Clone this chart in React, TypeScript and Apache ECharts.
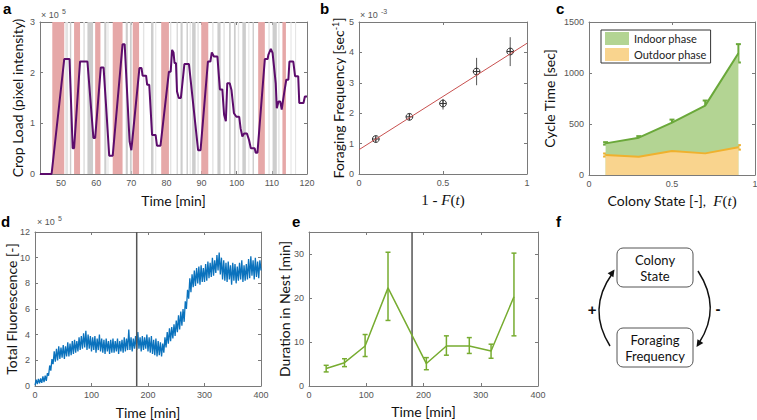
import React, { useEffect, useRef } from "react";
import * as echarts from "echarts";

// ---------- Panel a: crop load ----------
const aTicks = [50, 60, 70, 80, 90, 100, 110, 120];
const aXMin = 44;
const aXMax = 120;
const aYMax = 3;
const cropTime = [44, 47.3, 50.9, 52.4, 53.3, 53.7, 55.4, 57.5, 59.2, 59.7,
  61.3, 62.1, 62.7, 63.7, 64.7, 67.5, 68.1, 69.5, 70.0, 72.3,
  72.9, 73.2, 74.2, 74.5, 75.1, 75.9, 76.9, 77.3, 78.3, 80.7,
  81.2, 81.6, 82.0, 82.3, 82.7, 83.0, 83.5, 84.1, 85.1, 86.4,
  89.0, 89.7, 91.8, 92.5, 92.9, 93.5, 94.5, 95.2, 95.9, 96.4,
  96.9, 97.3, 98.0, 98.5, 99.2, 99.9, 100.7, 101.1, 101.6, 102.1,
  102.9, 103.5, 104.0, 105.1, 105.4, 105.9, 108.0, 108.8, 109.0, 109.7,
  110.2, 111.1, 111.4, 111.9, 112.4, 112.8, 113.5, 114.1, 114.7, 115.0,
  116.1, 116.6, 117.5, 117.8, 119.0, 119.4, 120];
const cropLoad = [0, 0, 2.27, 2.27, 0.51, 0.51, 2.22, 2.22, 0.71, 0.71,
  2.1, 2.1, 1.46, 0.36, 0.36, 2.56, 2.56, 0.64, 0.47, 2.09,
  2.09, 1.94, 1.94, 1.76, 1.76, 0.77, 0.77, 0.56, 0.56, 2.02,
  2.02, 2.45, 2.4, 2.19, 2.19, 1.63, 1.5, 1.5, 2.17, 2.17,
  0.47, 0.47, 2.22, 2.22, 2.4, 2.32, 2.32, 1.67, 1.67, 1.17,
  1.04, 1.79, 1.79, 1.66, 1.2, 1.13, 1.13, 0.9, 0.74, 0.8,
  0.8, 0.67, 0.51, 0.51, 0.42, 0.42, 2.27, 2.27, 2.35, 2.47,
  2.39, 1.79, 1.3, 1.43, 1.43, 1.27, 1.6, 1.86, 1.86, 2.22,
  2.22, 1.93, 1.93, 1.4, 1.4, 1.53, 1.53];
const outdoorBands = [[47.5, 50.9], [53.7, 55.4], [59.7, 61.2], [64.7, 67.5], [70.4, 72.2],
  [78.5, 80.7], [89.9, 91.9], [106.1, 108.0], [113.0, 114.0]];
const grayBandsDark = [[52.5, 52.9], [57.5, 59.1], [62.3, 62.9], [68.4, 69.0], [69.6, 70.1],
  [75.6, 76.3], [82.9, 83.2], [84.0, 84.6], [85.7, 86.1], [87.3, 88.3], [94.5, 95.4],
  [97.8, 98.3], [99.2, 99.7], [101.6, 102.6], [104.5, 104.9], [110.2, 111.4]];
const grayBandsLight = [[51.2, 52.0], [56.3, 56.8], [63.2, 63.5], [73.3, 73.7], [76.8, 77.1],
  [81.0, 81.4], [86.6, 86.9], [88.8, 89.2], [93.0, 93.4], [96.2, 96.6], [100.3, 100.7],
  [103.3, 103.6], [109.0, 109.4], [111.8, 112.2], [115.3, 115.6], [116.6, 116.9]];

// ---------- Panel b: foraging frequency ----------
const bX = [0.1, 0.3, 0.5, 0.7, 0.9];
const bFreq = [1.15, 1.88, 2.32, 3.37, 4.03];
const bLow = [1.07, 1.78, 2.12, 2.92, 3.55];
const bHigh = [1.23, 1.98, 2.47, 3.82, 4.5];
const fitX = [0, 1];
const fitY = [0.8, 4.3];

// ---------- Panel c: cycle time ----------
const colonyState = [0.1, 0.3, 0.5, 0.7, 0.9];
const indoorTop = [310, 366, 513, 680, 1193];
const indoorErr = [12, 15, 30, 50, 90];
const outdoorTop = [196, 180, 235, 212, 271];
const outdoorErr = [15, 15, 18, 15, 22];

// ---------- Panel d: total fluorescence (sampled every 2 min) ----------
const fluorStep = 2;
const fluor = [
  0.05, 0.5, 0.15, 0.55, 0.2, 0.6, 0.25, 0.75, 0.3, 0.8,
  0.4, 1.0, 0.8, 1.6, 1.2, 2.1, 1.7, 2.7, 1.9, 2.9,
  2.0, 3.1, 2.1, 3.0, 2.2, 3.2, 2.1, 3.1, 2.3, 3.4,
  2.3, 3.3, 2.4, 3.5, 2.5, 3.6, 2.6, 3.5, 2.7, 3.8,
  2.8, 3.9, 2.9, 4.1, 3.0, 4.3, 2.8, 4.0, 2.9, 3.9,
  2.7, 3.8, 2.8, 3.9, 2.6, 3.7, 2.8, 4.0, 2.7, 3.7,
  2.6, 3.6, 2.5, 3.7, 2.7, 3.5, 2.5, 3.6, 2.6, 3.7,
  2.6, 3.5, 2.7, 3.7, 2.5, 3.5, 2.7, 3.6, 2.6, 3.8,
  2.7, 3.7, 2.8, 4.4, 2.8, 3.8, 2.7, 3.7, 2.9, 3.9,
  2.8, 4.2, 2.9, 3.8, 2.7, 3.9, 2.8, 3.8, 2.9, 4.0,
  2.7, 3.8, 2.6, 3.9, 2.5, 3.6, 2.4, 3.7, 2.3, 3.5,
  2.4, 3.4, 2.3, 3.3, 2.6, 3.8, 3.0, 4.2, 3.3, 4.5,
  3.5, 4.6, 3.7, 4.8, 3.9, 5.1, 4.2, 5.5, 4.4, 5.8,
  4.7, 6.0, 5.0, 6.6, 6.0, 7.5, 6.8, 8.4, 7.3, 8.7,
  7.7, 9.0, 7.8, 9.2, 8.0, 9.3, 7.9, 9.4, 8.1, 9.2,
  8.1, 9.5, 8.2, 9.7, 8.4, 9.6, 8.5, 10.0, 8.6, 9.8,
  8.8, 10.2, 9.0, 10.4, 8.7, 10.0, 8.3, 9.8, 8.2, 9.6,
  8.1, 9.7, 8.3, 9.4, 7.9, 9.6, 8.2, 9.5, 8.0, 9.3,
  8.2, 9.6, 8.3, 9.8, 8.1, 9.4, 8.2, 9.5, 8.3, 9.9,
  8.4, 10.1, 8.6, 9.8, 8.3, 10.0, 8.5, 9.7, 8.4, 9.8,
  9.0];
const splitTime = 180;

// ---------- Panel e: duration in nest ----------
const nestTime = [30, 62, 98, 138, 205, 240, 280, 318, 358];
const nestDuration = [3.96, 5.3, 9.1, 22.3, 5.1, 9.1, 9.1, 7.96, 20.3];
const nestLow = [3.2, 4.4, 6.7, 14.9, 3.7, 7.0, 7.4, 6.3, 11.4];
const nestHigh = [4.7, 6.2, 11.7, 30.4, 6.45, 11.4, 11.0, 9.5, 30.2];
const eYTicks = [0, 10, 20, 30];

// ---------- styling ----------
const FONT_T = "'Liberation Sans', Arial, sans-serif";
const FONT_L = "Lato, 'Open Sans', sans-serif";
const FONT_S = "'Liberation Serif', 'DejaVu Serif', serif";
const FRAME = "#7a7a7a";
const TICK_COLOR = "#555";
const nameStyle = { fontFamily: FONT_L, fontSize: 14, color: "#111" };
const mathRich = {
  n: { fontFamily: FONT_S, fontSize: 15, color: "#111" },
  i: { fontFamily: FONT_S, fontSize: 15, fontStyle: "italic", color: "#111" },
  s: { fontFamily: FONT_L, fontSize: 14, color: "#111" },
};

const grids = [
  { left: 40, top: 22, width: 267, height: 152 },
  { left: 359, top: 22, width: 168, height: 152 },
  { left: 589, top: 22, width: 166, height: 153 },
  { left: 35, top: 232, width: 226, height: 154 },
  { left: 309, top: 232, width: 229, height: 154 },
];

function axisPair(kind: "x" | "y", gi: number, spec: any) {
  const base: any = {
    gridIndex: gi,
    type: "value",
    min: spec.min,
    max: spec.max,
    interval: spec.interval,
    splitLine: { show: false },
    axisLine: { show: true, onZero: false, lineStyle: { color: FRAME, width: 1 } },
    axisTick: { show: true, inside: true, length: 3, lineStyle: { color: FRAME, width: 1 }, customValues: spec.ticks },
  };
  const main: any = {
    ...base,
    position: kind === "x" ? "bottom" : "left",
    axisLabel: {
      color: TICK_COLOR, fontSize: 9, fontFamily: FONT_T, margin: kind === "x" ? 4 : 5,
      customValues: spec.ticks, formatter: (v: number) => String(v),
    },
    name: spec.name,
    nameLocation: "middle",
    nameGap: spec.gap,
    nameMoveOverlap: false,
    nameTextStyle: spec.nameStyle || nameStyle,
  };
  if (kind === "y") main.nameRotate = 90;
  const mirror: any = { ...base, position: kind === "x" ? "top" : "right", axisLabel: { show: false } };
  return [main, mirror];
}

const errBar = (color: string, cap: number, lw: number) => (params: any, api: any) => {
  const x = api.value(0);
  const lo = api.coord([x, api.value(1)]);
  const hi = api.coord([x, api.value(2)]);
  const st = { stroke: color, lineWidth: lw };
  const ch: any[] = [{ type: "line", shape: { x1: lo[0], y1: lo[1], x2: hi[0], y2: hi[1] }, style: st }];
  if (cap > 0) {
    ch.push({ type: "line", shape: { x1: lo[0] - cap, y1: lo[1], x2: lo[0] + cap, y2: lo[1] }, style: st });
    ch.push({ type: "line", shape: { x1: hi[0] - cap, y1: hi[1], x2: hi[0] + cap, y2: hi[1] }, style: st });
  }
  return { type: "group", children: ch };
};

const ringMarker = (params: any, api: any) => {
  const p = api.coord([api.value(0), api.value(1)]);
  const r = 3.4;
  const st = { stroke: "#333", lineWidth: 1, fill: "transparent" };
  return {
    type: "group",
    children: [
      { type: "circle", shape: { cx: p[0], cy: p[1], r }, style: st },
      { type: "line", shape: { x1: p[0] - r, y1: p[1], x2: p[0] + r, y2: p[1] }, style: st },
      { type: "line", shape: { x1: p[0], y1: p[1] - r, x2: p[0], y2: p[1] + r }, style: st },
    ],
  };
};

const bandRender = (color: string) => (params: any, api: any) => {
  const p0 = api.coord([api.value(0), aYMax]);
  const p1 = api.coord([api.value(1), 0]);
  return {
    type: "rect",
    shape: { x: p0[0], y: p0[1], width: p1[0] - p0[0], height: p1[1] - p0[1] },
    style: { fill: color },
  };
};

function arrowHead(tx: number, ty: number, dx: number, dy: number, len: number, half: number) {
  const n = Math.hypot(dx, dy);
  const ux = dx / n, uy = dy / n;
  const bx = tx - ux * len, by = ty - uy * len;
  return [[tx, ty], [bx - uy * half, by + ux * half], [bx + uy * half, by - ux * half]];
}

function buildOption(): any {
  const xs: any[] = [];
  const ys: any[] = [];
  xs.push(...axisPair("x", 0, { min: aXMin, max: aXMax, ticks: aTicks, name: "Time [min]", gap: 19 }));
  ys.push(...axisPair("y", 0, { min: 0, max: aYMax, interval: 1, name: "Crop Load (pixel intensity)", gap: 16 }));
  xs.push(...axisPair("x", 1, {
    min: 0, max: 1, interval: 0.5, gap: 18,
    name: "{n|1 - }{i|F}{n|(}{i|t}{n|)}", nameStyle: { rich: mathRich },
  }));
  ys.push(...axisPair("y", 1, {
    min: 0, max: 5, interval: 1, gap: 13,
    name: "{t|Foraging Frequency [sec}{sup|-1}{t|]}",
    nameStyle: { rich: { t: { ...nameStyle }, sup: { fontFamily: FONT_L, fontSize: 9, color: "#111", verticalAlign: "top", padding: [0, 0, 6, 0] } } },
  }));
  xs.push(...axisPair("x", 2, {
    min: 0, max: 1, interval: 0.5, gap: 18,
    name: "{s|Colony State [-],  }{i|F}{n|(}{i|t}{n|)}", nameStyle: { rich: mathRich },
  }));
  ys.push(...axisPair("y", 2, { min: 0, max: 1500, interval: 500, name: "Cycle Time [sec]", gap: 33 }));
  xs.push(...axisPair("x", 3, { min: 0, max: 400, interval: 100, name: "Time [min]", gap: 19 }));
  ys.push(...axisPair("y", 3, { min: 0, max: 12, interval: 2, name: "Total Fluorescence [-]", gap: 17 }));
  xs.push(...axisPair("x", 4, { min: 0, max: 400, interval: 100, name: "Time [min]", gap: 18 }));
  ys.push(...axisPair("y", 4, { min: 0, max: 35, ticks: eYTicks, name: "Duration in Nest [min]", gap: 18 }));

  const series: any[] = [
    // a
    { type: "custom", xAxisIndex: 0, yAxisIndex: 0, renderItem: bandRender("#e4e4e4"), data: grayBandsLight, encode: { x: [0, 1] }, silent: true },
    { type: "custom", xAxisIndex: 0, yAxisIndex: 0, renderItem: bandRender("#cdcdcd"), data: grayBandsDark, encode: { x: [0, 1] }, silent: true },
    { type: "custom", xAxisIndex: 0, yAxisIndex: 0, renderItem: bandRender("#e6a8a8"), data: outdoorBands, encode: { x: [0, 1] }, silent: true },
    {
      type: "line", xAxisIndex: 0, yAxisIndex: 0, symbol: "none",
      lineStyle: { color: "#5c0c6c", width: 2 },
      data: cropTime.map((t, i) => [t, cropLoad[i]]),
    },
    // b
    {
      type: "line", xAxisIndex: 2, yAxisIndex: 2, symbol: "none",
      lineStyle: { color: "#c8504f", width: 1 },
      data: fitX.map((x, i) => [x, fitY[i]]),
    },
    {
      type: "custom", xAxisIndex: 2, yAxisIndex: 2, renderItem: errBar("#555", 0, 1),
      data: bX.map((x, i) => [x, bLow[i], bHigh[i]]), encode: { x: 0, y: [1, 2] },
    },
    {
      type: "custom", xAxisIndex: 2, yAxisIndex: 2, renderItem: ringMarker,
      data: bX.map((x, i) => [x, bFreq[i]]), encode: { x: 0, y: 1 },
    },
    // c
    {
      name: "Indoor phase", type: "line", xAxisIndex: 4, yAxisIndex: 4, symbol: "none",
      lineStyle: { color: "#6aa83a", width: 2 }, itemStyle: { color: "#b3d493" },
      areaStyle: { color: "#b3d493", opacity: 1 },
      data: colonyState.map((x, i) => [x, indoorTop[i]]),
    },
    {
      name: "Outdoor phase", type: "line", xAxisIndex: 4, yAxisIndex: 4, symbol: "none",
      lineStyle: { color: "#efb12e", width: 2 }, itemStyle: { color: "#f9d48e" },
      areaStyle: { color: "#f9d48e", opacity: 1 },
      data: colonyState.map((x, i) => [x, outdoorTop[i]]),
    },
    {
      type: "custom", xAxisIndex: 4, yAxisIndex: 4, renderItem: errBar("#6aa83a", 2.5, 2),
      data: colonyState.map((x, i) => [x, indoorTop[i] - indoorErr[i], indoorTop[i] + indoorErr[i]]),
      encode: { x: 0, y: [1, 2] },
    },
    {
      type: "custom", xAxisIndex: 4, yAxisIndex: 4, renderItem: errBar("#efb12e", 2.5, 2),
      data: colonyState.map((x, i) => [x, outdoorTop[i] - outdoorErr[i], outdoorTop[i] + outdoorErr[i]]),
      encode: { x: 0, y: [1, 2] },
    },
    // d
    {
      type: "line", xAxisIndex: 6, yAxisIndex: 6, symbol: "none",
      lineStyle: { color: "#0a72bd", width: 1.3 },
      data: fluor.map((v, i) => [i * fluorStep, v]),
    },
    {
      type: "line", xAxisIndex: 6, yAxisIndex: 6, symbol: "none",
      lineStyle: { color: "#555", width: 1.5 },
      data: [[splitTime, 0], [splitTime, 12]],
    },
    // e
    {
      type: "line", xAxisIndex: 8, yAxisIndex: 8, symbol: "none",
      lineStyle: { color: "#555", width: 1.5 },
      data: [[splitTime, 0], [splitTime, 35]],
    },
    {
      type: "line", xAxisIndex: 8, yAxisIndex: 8, symbol: "none",
      lineStyle: { color: "#77ac30", width: 1.5 },
      data: nestTime.map((t, i) => [t, nestDuration[i]]),
    },
    {
      type: "custom", xAxisIndex: 8, yAxisIndex: 8, renderItem: errBar("#77ac30", 2.5, 1.5),
      data: nestTime.map((t, i) => [t, nestLow[i], nestHigh[i]]), encode: { x: 0, y: [1, 2] },
    },
  ];

  const letter = (t: string, x: number, y: number) => ({
    type: "text", x, y,
    style: { text: t, fontFamily: FONT_T, fontSize: 15, fontWeight: "bold", fill: "#000", verticalAlign: "middle" },
  });
  const small = (t: string, x: number, y: number, size: number) => ({
    type: "text", x, y,
    style: { text: t, fontFamily: FONT_T, fontSize: size, fill: TICK_COLOR, verticalAlign: "middle" },
  });
  const boxText = (t: string, x: number, y: number) => ({
    type: "text", x, y,
    style: { text: t, fontFamily: FONT_L, fontSize: 13, fill: "#111", align: "center", verticalAlign: "middle" },
  });
  const arrowStyle = { stroke: "#111", lineWidth: 1.5, fill: null };

  const graphic: any[] = [
    letter("a", 3, 8), letter("b", 320, 8), letter("c", 556, 8),
    letter("d", 1, 221), letter("e", 292, 221), letter("f", 556, 221),
    small("× 10", 41, 15, 9), small("5", 62, 11, 7),
    small("× 10", 360, 15, 9), small("-3", 381, 11, 7),
    small("× 10", 37, 222, 9), small("5", 58, 218, 7),
    // panel f diagram
    { type: "rect", shape: { x: 617, y: 248, width: 76, height: 39, r: 6 }, style: { fill: "#fff", stroke: "#555", lineWidth: 1 } },
    { type: "rect", shape: { x: 617, y: 328, width: 76, height: 39, r: 6 }, style: { fill: "#fff", stroke: "#555", lineWidth: 1 } },
    boxText("Colony", 655, 260), boxText("State", 655, 276),
    boxText("Foraging", 655, 340), boxText("Frequency", 655, 356),
    { type: "bezierCurve", shape: { x1: 610, y1: 346, x2: 612, y2: 274, cpx1: 587, cpy1: 309 }, style: arrowStyle },
    { type: "polygon", shape: { points: arrowHead(614.5, 269.5, 25, -36, 7, 3.5) }, style: { fill: "#111" } },
    { type: "bezierCurve", shape: { x1: 698, y1: 271, x2: 699, y2: 343, cpx1: 722, cpy1: 308 }, style: arrowStyle },
    { type: "polygon", shape: { points: arrowHead(696.5, 347, -24, 36, 7, 3.5) }, style: { fill: "#111" } },
    { type: "text", x: 592, y: 309, style: { text: "+", fontFamily: FONT_T, fontSize: 15, fontWeight: "bold", fill: "#111", align: "center", verticalAlign: "middle" } },
    { type: "text", x: 718, y: 308, style: { text: "-", fontFamily: FONT_T, fontSize: 15, fontWeight: "bold", fill: "#111", align: "center", verticalAlign: "middle" } },
  ];

  return {
    animation: false,
    backgroundColor: "#fff",
    textStyle: { fontFamily: FONT_L },
    grid: grids.map((g) => ({ ...g, containLabel: false, outerBoundsMode: "none", show: false })),
    xAxis: xs,
    yAxis: ys,
    legend: {
      data: [
        { name: "Indoor phase", icon: "rect", itemStyle: { color: "#b3d493" } },
        { name: "Outdoor phase", icon: "rect", itemStyle: { color: "#f9d48e" } },
      ],
      orient: "vertical",
      left: 601,
      top: 30,
      itemWidth: 24,
      itemHeight: 13,
      itemGap: 3,
      padding: [2, 4, 2, 4],
      borderColor: "#333",
      borderWidth: 1,
      backgroundColor: "#fff",
      selectedMode: false,
      textStyle: { fontFamily: FONT_L, fontSize: 11, color: "#222" },
    },
    series,
    graphic,
  };
}

export default function App() {
  const ref = useRef<HTMLDivElement>(null);
  useEffect(() => {
    const chart = echarts.init(ref.current!, null, { renderer: "svg" });
    chart.setOption(buildOption());
    return () => chart.dispose();
  }, []);
  return (
    <div
      ref={ref}
      style={{ position: "fixed", left: 0, top: 0, width: 757, height: 420, background: "#fff" }}
    />
  );
}
